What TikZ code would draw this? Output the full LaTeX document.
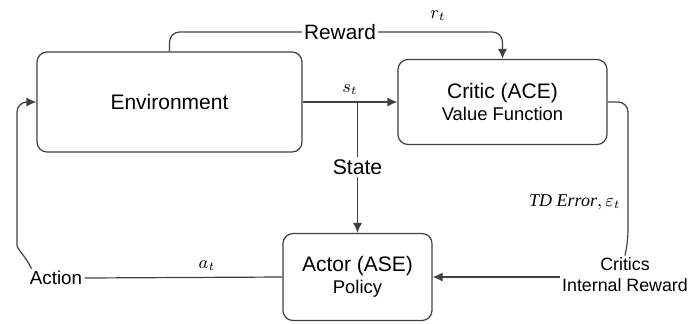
\documentclass[tikz,border=0pt]{standalone}
\usepackage{amsmath}
\usepackage{fontspec}
\setmainfont{Liberation Sans}
\newfontfamily\timesit{Liberation Serif}[ItalicFont={* Italic}]
\usetikzlibrary{arrows.meta}

\begin{document}
\begin{tikzpicture}[x=0.5pt,y=-0.5pt,
        box/.style={draw=black!75, line width=0.6pt, rounded corners=5pt, align=center},
        lbl/.style={inner sep=1pt, align=center},
        wire/.style={draw=black!75, line width=0.6pt},
        arr/.style={wire, -{Latex[length=5pt,width=4.5pt]}}]
        \useasboundingbox (0,0) rectangle (691,323);
        % blocks
        \node[box, minimum width=132.5pt, minimum height=50pt, font=\fontsize{10.5}{12}\selectfont] at (169.5,102) (env) {Environment};
        \node[box, minimum width=104.5pt, minimum height=42.5pt, font=\fontsize{10.5}{12}\selectfont] at (502.5,102) (critic) {Critic (ACE)\\[-1pt]\fontsize{9.2}{11}\selectfont Value Function};
        \node[box, minimum width=74.5pt, minimum height=43.5pt, font=\fontsize{10.5}{12}\selectfont] at (357.5,277) (actor) {Actor (ASE)\\[-1pt]\fontsize{9.2}{11}\selectfont Policy};
        % labels
        \node[lbl, font=\fontsize{10.4}{12}\selectfont] at (340,32) (reward) {Reward};
        \node[lbl, font=\fontsize{9}{10}\selectfont] at (438,16) (rt) {$r_t$};
        \node[lbl, font=\fontsize{9}{10}\selectfont] at (350,90) (st) {$s_t$};
        \node[lbl, font=\fontsize{10.6}{12}\selectfont] at (357.5,167) (state) {State};
        \node[lbl, anchor=east, font=\fontsize{9}{10}\selectfont] at (623,202) (tderr) {{\timesit\itshape TD Error}$,\varepsilon_t$};
        \node[lbl, font=\fontsize{8.9}{10.5}\selectfont] at (625,275) (irw) {Critics\\Internal Reward};
        \node[lbl, font=\fontsize{9.4}{11}\selectfont] at (56,278) (action) {Action};
        \node[lbl, font=\fontsize{9}{10}\selectfont] at (207,266) (at) {$a_t$};
        \coordinate (split) at (357.5,102);
        \coordinate (tdbend) at (628,240);
        \coordinate (actup) at (17,235);
        % connectors
        \draw[wire, rounded corners=5pt] (env.north) |- (reward.west);
        \draw[arr, rounded corners=5pt] (reward.east) -| (critic.north);
        \draw[arr] (env.east) -- (critic.west);
        \draw[wire] (split) -- (state.north);
        \draw[arr] (state.south) -- (actor.north);
        \draw[wire, rounded corners=5pt] (critic.east) -| (tdbend) -- (irw.north);
        \draw[arr] (irw.west |- actor.east) -- (actor.east);
        \draw[wire] (actor.west) -- (action.east);
        \draw[arr, rounded corners=5pt] ([xshift=2pt]action.north west) to[out=115,in=-90] (actup) |- (env.west);
    \end{tikzpicture}
\end{document}
